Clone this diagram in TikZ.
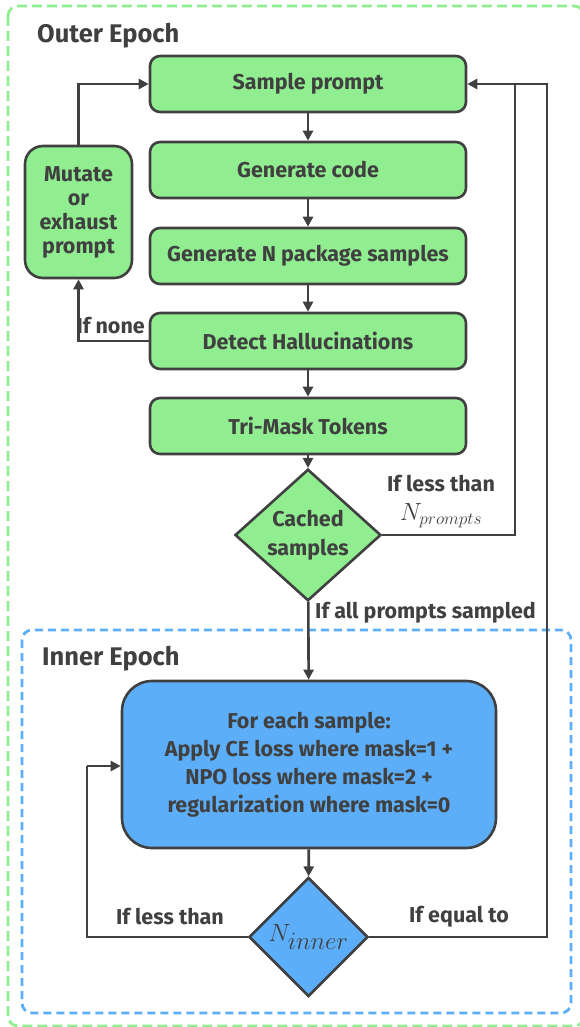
\documentclass[tikz,border=0pt]{standalone}
\usepackage{fontspec}
\setmainfont{Fira Sans}
\usepackage{tikz}
\usetikzlibrary{positioning,arrows.meta,shapes.geometric}
\definecolor{boxgreen}{HTML}{90EE90}
\definecolor{boxblue}{HTML}{5DAEF8}
\definecolor{ink}{HTML}{404040}

\begin{document}
\begin{tikzpicture}[
  x=1pt, y=-1pt,
  every node/.style={text=ink, font=\fontsize{21.5}{24}\selectfont\bfseries},
  stepbox/.style={draw=ink, line width=2.6pt, fill=boxgreen, rounded corners=10pt,
    minimum width=316pt, minimum height=56pt, inner sep=0pt},
  decision/.style={draw=ink, line width=2.6pt, diamond, inner sep=0pt, align=center},
  flow/.style={draw=ink, line width=2.6pt, -{Triangle[length=10pt,width=10pt]}},
  loopline/.style={draw=ink, line width=2.6pt},
  lbl/.style={inner sep=0pt},
  epoch/.style={line width=2.8pt, rounded corners=10pt, dash pattern=on 10pt off 5pt},
  epochlbl/.style={inner sep=0pt, anchor=west, font=\fontsize{25.5}{28}\selectfont\bfseries}
]
  \useasboundingbox (0,0) rectangle (579,1027);

  % Epoch frames
  \draw[epoch, boxgreen] (8,6) rectangle (584,1026);
  \draw[epoch, boxblue, dash pattern=on 8pt off 5pt] (22,630) rectangle (571,1013);
  \node[epochlbl] (outerlbl) at (37,36) {Outer Epoch};
  \node[epochlbl] (innerlbl) at (42,659) {Inner Epoch};

  % Outer epoch steps
  \node[stepbox] (sample) at (308,84) {Sample prompt};
  \node[stepbox] (gencode) at (308,170) {Generate code};
  \node[stepbox] (genpkg) at (308,256) {Generate N package samples};
  \node[stepbox] (detect) at (308,341) {Detect Hallucinations};
  \node[stepbox] (trimask) at (308,426) {Tri-Mask Tokens};
  \node[decision, fill=boxgreen, minimum width=146pt, minimum height=114pt,
    font=\fontsize{21.5}{29}\selectfont\bfseries] (cached) at (308,535) {Cached\\samples};
  \node[stepbox, minimum width=107pt, minimum height=132pt, rounded corners=18pt,
    align=center] (mutate) at (78.5,212) {Mutate\\or\\exhaust\\prompt};

  % Inner epoch steps
  \node[stepbox, fill=boxblue, minimum width=374pt, minimum height=167pt,
    rounded corners=30pt, align=center, font=\fontsize{21.5}{28}\selectfont\bfseries]
    (train) at (309,764.5) {For each sample:\\Apply CE loss where mask=1 +\\NPO loss where mask=2 +\\regularization where mask=0};
  \node[decision, fill=boxblue, minimum width=119pt, minimum height=119pt,
    font=\fontsize{33}{36}\selectfont] (inner) at (308.5,937) {$N_{inner}$};

  % Corner points of the loops
  \coordinate (backA) at (515,84);
  \coordinate (backB) at (547,84);
  \coordinate (backC) at (87,766);

  % Main flow
  \draw[flow] (sample) -- (gencode);
  \draw[flow] (gencode) -- (genpkg);
  \draw[flow] (genpkg) -- (detect);
  \draw[flow] (detect) -- (trimask);
  \draw[flow] (trimask) -- (cached);
  \draw[flow] (cached) -- (train);
  \draw[flow] (train) -- (inner);

  % Loops
  \draw[flow] (detect.west) -| (mutate.south);
  \draw[flow] (mutate.north) |- (sample.west);
  \draw[loopline] (cached.east) -| (backA);
  \draw[flow] (inner.east) -| (backB) -- (sample.east);
  \draw[loopline] (inner.west) -| (backC);
  \draw[flow] (backC) -- (train.west |- backC);

  % Branch labels
  \node[lbl, anchor=south east] (nonelbl) at (145,334) {If none};
  \node[lbl, anchor=center] (lesslbl) at (441,484) {If less than};
  \node[lbl, anchor=center, font=\fontsize{26}{28}\selectfont] (nplbl) at (441,516) {$N_{prompts}$};
  \node[lbl, anchor=west] (alllbl) at (315,613) {If all prompts sampled};
  \node[lbl, anchor=center] (innerless) at (170,917) {If less than};
  \node[lbl, anchor=center] (equallbl) at (459,917) {If equal to};
\end{tikzpicture}
\end{document}
